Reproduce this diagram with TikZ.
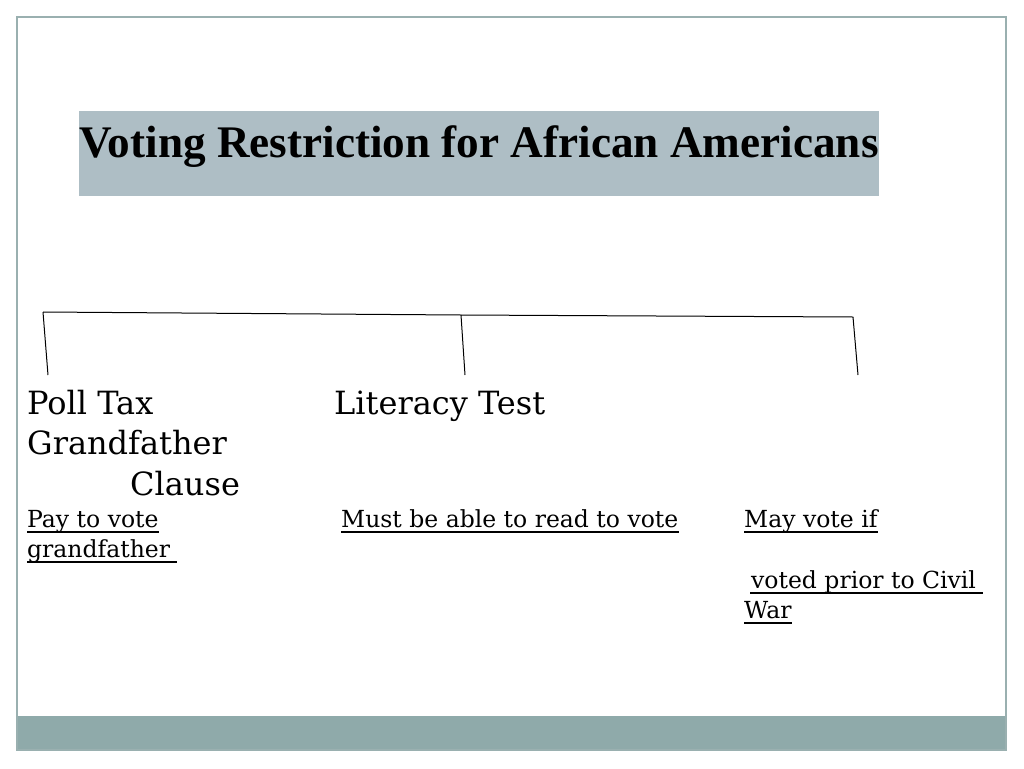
\documentclass[tikz,border=0pt]{standalone}
\usepackage{fontspec}
\setmainfont{DejaVu Serif}
\newfontfamily\titlefont{Liberation Serif}
\begin{document}
\begin{tikzpicture}[x=1pt,y=-1pt,
  head/.style={anchor=base west,inner sep=0pt,font=\fontsize{32}{40}\selectfont},
  body/.style={anchor=base west,inner sep=0pt,font=\fontsize{23.5}{30}\selectfont},
  ul/.style={line width=1.2pt},
  conn/.style={line width=1pt,black}]
\definecolor{framec}{HTML}{9AB0B0}
\definecolor{bandc}{HTML}{8FAAAA}
\definecolor{titlec}{HTML}{AEBEC5}
\useasboundingbox (0,0) rectangle (1024,768);
\fill[white] (0,0) rectangle (1024,768);
\fill[bandc] (17,716) rectangle (1006,750);
\draw[framec,line width=1.5pt] (17,17) rectangle (1006,750);
\node[fill=titlec,minimum width=800pt,minimum height=85pt,inner sep=0pt,anchor=north west] (tbox) at (79,111) {};
\node[anchor=base,inner sep=0pt,font=\titlefont\bfseries\fontsize{45.2}{50}\selectfont] (title) at (479,157) {Voting Restriction for African Americans};
% bracket
\coordinate (h1) at (43,312);
\coordinate (h2) at (461,315);
\coordinate (h3) at (853,317);
\coordinate (v1) at (48,375);
\coordinate (v2) at (465,375);
\coordinate (v3) at (858,375);
\draw[conn] (h1) -- (h2) -- (h3);
\draw[conn] (h1) -- (v1);
\draw[conn] (h2) -- (v2);
\draw[conn] (h3) -- (v3);
% headings
\node[head] (poll) at (27,414) {Poll Tax};
\node[head] (lit) at (334,414) {Literacy Test};
\node[head] (grand) at (27,454) {Grandfather};
\node[head] (clause) at (130,495) {Clause};
% bodies
\node[body] (pay) at (27,527) {Pay to vote};
\node[body] (gf) at (27,557) {grandfather};
\node[body] (must) at (341,527) {Must be able to read to vote};
\node[body] (may) at (744,527) {May vote if};
\node[body] (voted) at (751,588) {voted prior to Civil};
\node[body] (war) at (744,618) {War};
\draw[ul] ([yshift=-5pt]pay.base west) -- ([yshift=-5pt]pay.base east);
\draw[ul] ([yshift=-5pt]gf.base west) -- ([yshift=-5pt,xshift=7pt]gf.base east);
\draw[ul] ([yshift=-5pt]must.base west) -- ([yshift=-5pt]must.base east);
\draw[ul] ([yshift=-5pt]may.base west) -- ([yshift=-5pt]may.base east);
\draw[ul] ([yshift=-5pt,xshift=-1pt]voted.base west) -- ([yshift=-5pt,xshift=7pt]voted.base east);
\draw[ul] ([yshift=-5pt]war.base west) -- ([yshift=-5pt]war.base east);
\end{tikzpicture}
\end{document}
